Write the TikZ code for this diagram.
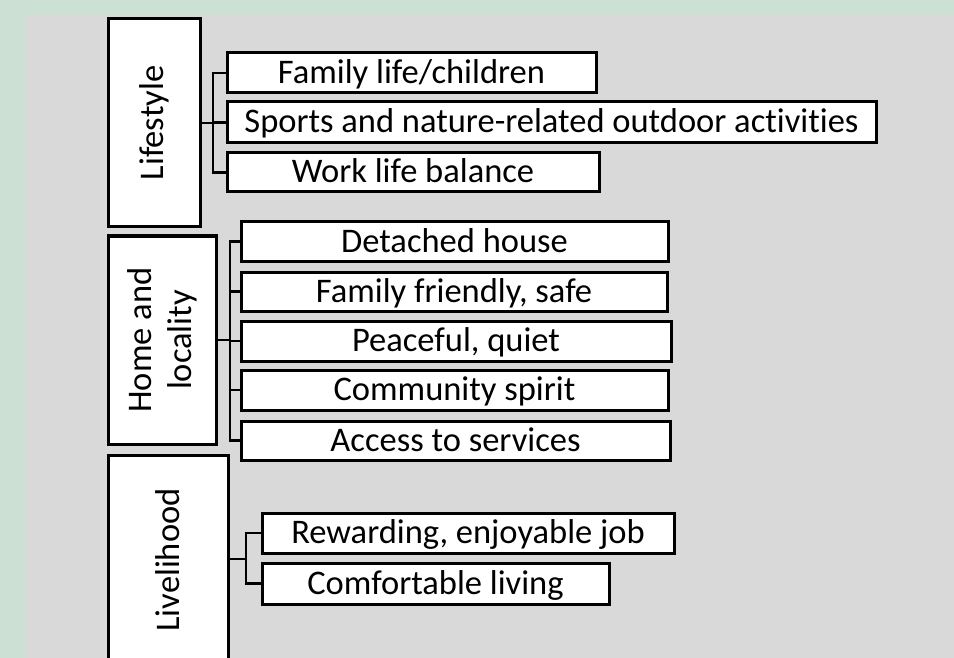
\documentclass[tikz,border=0pt]{standalone}
\usepackage{fontspec}
\setmainfont{Carlito}[Ligatures=NoCommon]
\definecolor{outergreen}{HTML}{CDE0D4}
\definecolor{panelgray}{HTML}{D9D9D9}
\tikzset{
  lbl/.style={font=\fontsize{34.5}{40}\selectfont},
  frame/.style={draw=black, fill=white, line width=3pt, inner sep=0pt, outer sep=0pt, anchor=north west, lbl},
  box/.style={frame, text height=21pt, text depth=0pt},
  cat/.style={frame},
  link/.style={draw=black, line width=2.6pt},
}
\begin{document}
\begin{tikzpicture}[x=1pt,y=-1pt]
\clip (0,0) rectangle (954,658);
\useasboundingbox (0,0) rectangle (954,658);
\fill[outergreen] (0,0) rectangle (954,658);
\fill[panelgray] (25,15) rectangle (954,658);
% categories
\node[cat, minimum width=92pt, minimum height=208pt] (L) at (108,19) {};
\node[rotate=90, lbl] (Lt) at (L.center) {Lifestyle};
\node[cat, minimum width=108pt, minimum height=208pt] (H) at (108,236) {};
\node[rotate=90, align=center, lbl] (Ht) at (H.center) {Home and\\locality};
\node[cat, minimum width=120pt, minimum height=260pt] (V) at (108,455) {};
\node[rotate=90, lbl] (Vt) at (168,560) {Livelihood};
% lifestyle items
\node[box, minimum width=369pt, minimum height=40pt] (L1) at (227,53) {Family life/children};
\node[box, minimum width=649pt, minimum height=41pt] (L2) at (227,102) {Sports and nature-related outdoor activities};
\node[box, minimum width=372pt, minimum height=39pt] (L3) at (227,153) {Work life balance};
% home items
\node[box, minimum width=427pt, minimum height=39pt] (H1) at (241,222) {Detached house};
\node[box, minimum width=426pt, minimum height=39pt] (H2) at (241,272) {Family friendly, safe};
\node[box, minimum width=430pt, minimum height=40pt] (H3) at (241,321) {Peaceful, quiet};
\node[box, minimum width=427pt, minimum height=40pt] (H4) at (241,370) {Community spirit};
\node[box, minimum width=429pt, minimum height=39pt] (H5) at (241,421) {Access to services};
% livelihood items
\node[box, minimum width=412pt, minimum height=40pt] (V1) at (262,513) {Rewarding, enjoyable job};
\node[box, minimum width=347pt, minimum height=41pt] (V2) at (262,563) {Comfortable living};
% brackets
\coordinate (Lb) at (213,123);
\draw[link] (L.east) -- (Lb);
\foreach \c in {L1,L2,L3} \draw[link] (\c.west) -| (Lb);
\coordinate (Hb) at (230,340);
\draw[link] (H.east) -- (Hb);
\foreach \c in {H1,H2,H3,H4,H5} \draw[link] (\c.west) -| (Hb);
\coordinate (Vs) at (228,559);
\coordinate (Vb) at (246,559);
\draw[link] (Vs) -- (Vb);
\foreach \c in {V1,V2} \draw[link] (\c.west) -| (Vb);
\end{tikzpicture}
\end{document}
